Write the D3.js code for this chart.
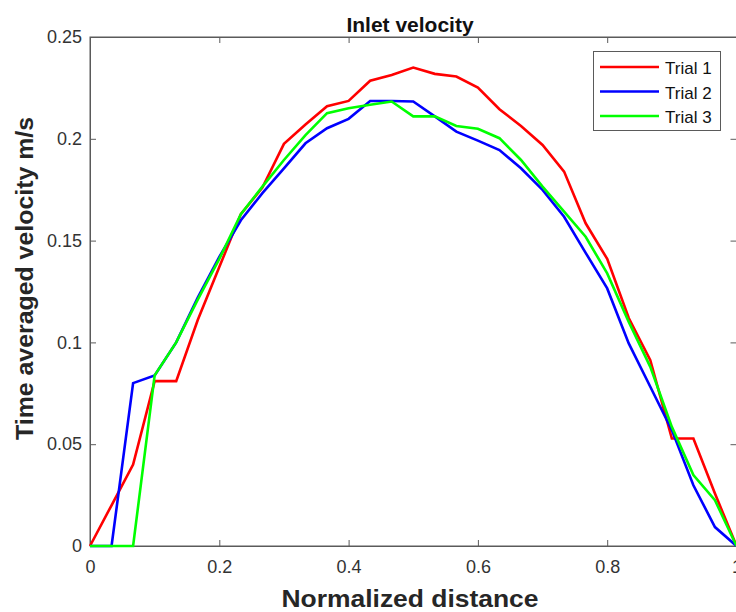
<!DOCTYPE html>
<html><head><meta charset="utf-8">
<script src="https://cdn.jsdelivr.net/npm/d3@7"></script>
<style>body{margin:0;background:#fff;} svg{display:block;font-family:"Liberation Sans",Arial,sans-serif;}</style>
</head><body>
<svg id="c" width="736" height="612"></svg>
<script>
const xPositions = d3.range(31).map(i => i / 30);
const trial1 = [0, 0.020, 0.040, 0.081, 0.081, 0.111, 0.137, 0.163, 0.176, 0.1975, 0.207, 0.216, 0.2186, 0.2285, 0.2313, 0.235, 0.2319, 0.2306, 0.2252, 0.2145, 0.2063, 0.197, 0.1839, 0.1585, 0.141, 0.112, 0.0913, 0.0528, 0.0528, 0.0258, 0];
const trial2 = [0, 0, 0.080, 0.0838, 0.100, 0.122, 0.142, 0.160, 0.1733, 0.1855, 0.1978, 0.2052, 0.2098, 0.2186, 0.2186, 0.2183, 0.211, 0.2035, 0.1991, 0.1945, 0.1855, 0.1749, 0.1617, 0.144, 0.1265, 0.0995, 0.0782, 0.0569, 0.0298, 0.0093, 0];
const trial3 = [0, 0, 0, 0.0838, 0.100, 0.121, 0.141, 0.163, 0.1765, 0.1896, 0.2018, 0.2126, 0.215, 0.2167, 0.2183, 0.211, 0.211, 0.2063, 0.2049, 0.2003, 0.1896, 0.1765, 0.1642, 0.1519, 0.1339, 0.1101, 0.088, 0.0585, 0.0348, 0.0225, 0];
const seriesNames = ["Trial 1", "Trial 2", "Trial 3"];
const seriesColors = ["#ff0000", "#0000ff", "#00ff00"];
const xTicks = [0, 0.2, 0.4, 0.6, 0.8, 1];
const yTicks = [0, 0.05, 0.1, 0.15, 0.2, 0.25];

const svg = d3.select("#c");
const L = 90, R = 736.5, T = 37, B = 546;
const x = d3.scaleLinear().domain([0, 1]).range([L, R]);
const y = d3.scaleLinear().domain([0, 0.25]).range([B, T]);
const axisColor = "#5a5a5a";

svg.append("rect").attr("x", L).attr("y", T).attr("width", R - L).attr("height", B - T)
  .attr("fill", "none").attr("stroke", axisColor).attr("stroke-width", 1);

const fmt = d => d === 0 ? "0" : d === 1 ? "1" : String(+d.toFixed(2));

svg.append("g").attr("transform", `translate(0,${B})`)
  .call(d3.axisBottom(x).tickValues(xTicks).tickFormat(fmt).tickSizeInner(-6).tickSizeOuter(0).tickPadding(14));
svg.append("g").attr("transform", `translate(0,${T})`)
  .call(d3.axisTop(x).tickValues(xTicks).tickFormat("").tickSizeInner(-6).tickSizeOuter(0));
svg.append("g").attr("transform", `translate(${L},0)`)
  .call(d3.axisLeft(y).tickValues(yTicks).tickFormat(fmt).tickSizeInner(-6).tickSizeOuter(0).tickPadding(8));
svg.append("g").attr("transform", `translate(${R},0)`)
  .call(d3.axisRight(y).tickValues(yTicks).tickFormat("").tickSizeInner(-6).tickSizeOuter(0));

svg.selectAll(".domain").attr("stroke", axisColor);
svg.selectAll(".tick line").attr("stroke", axisColor);
svg.selectAll(".tick text").attr("fill", "#333").style("font-size", "18px")
  .style("font-family", "'Liberation Sans', Arial, sans-serif");

const data = [trial1, trial2, trial3];
const line = d3.line().x((d, i) => x(xPositions[i])).y(d => y(d));
data.forEach((s, k) => {
  svg.append("path").datum(s).attr("d", line).attr("fill", "none")
    .attr("stroke", seriesColors[k]).attr("stroke-width", 2.6).attr("stroke-linejoin", "miter");
});

svg.append("text").attr("x", 410).attr("y", 32).attr("text-anchor", "middle")
  .style("font-size", "21px").style("font-weight", "bold").attr("fill", "#111").text("Inlet velocity");
svg.append("text").attr("x", 410).attr("y", 606.5).attr("text-anchor", "middle")
  .attr("textLength", 257).attr("lengthAdjust", "spacingAndGlyphs")
  .style("font-size", "24px").style("font-weight", "bold").attr("fill", "#262626").text("Normalized distance");
svg.append("text").attr("transform", `translate(33,278.5) rotate(-90)`).attr("text-anchor", "middle")
  .attr("textLength", 323).attr("lengthAdjust", "spacingAndGlyphs")
  .style("font-size", "24px").style("font-weight", "bold").attr("fill", "#262626").text("Time averaged velocity m/s");

const lg = svg.append("g");
lg.append("rect").attr("x", 593.5).attr("y", 51.5).attr("width", 127).attr("height", 79)
  .attr("fill", "#fff").attr("stroke", axisColor).attr("stroke-width", 1);
seriesNames.forEach((n, k) => {
  const yy = 67 + k * 24.5;
  lg.append("line").attr("x1", 600).attr("x2", 659).attr("y1", yy).attr("y2", yy)
    .attr("stroke", seriesColors[k]).attr("stroke-width", 2.6);
  lg.append("text").attr("x", 665).attr("y", yy + 7).style("font-size", "17px").attr("fill", "#111").text(n);
});
</script>
</body></html>
